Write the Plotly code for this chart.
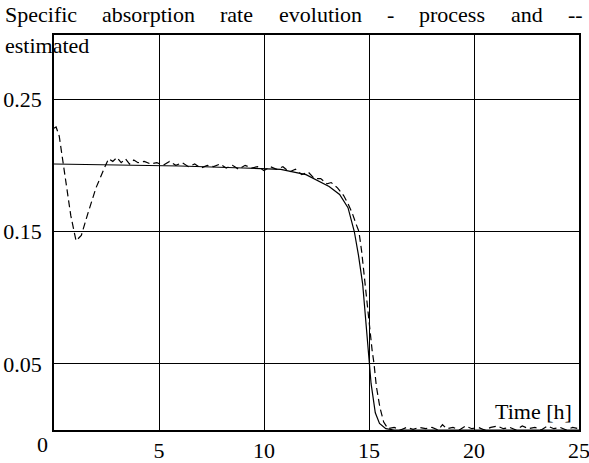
import plotly.graph_objects as go

# ---- data ----
t_process = [0, 3, 6, 9, 10.8, 12, 13.1, 13.6, 14.0, 14.3, 14.5, 14.7, 14.9, 15.0, 15.1,
             15.3, 15.5, 15.8, 16.2, 25]
sar_process = [0.201, 0.2005, 0.1995, 0.198, 0.197, 0.193, 0.184, 0.178, 0.168, 0.150, 0.132,
               0.110, 0.072, 0.052, 0.035, 0.013, 0.005, 0.001, 0.0, 0.0]

t_estimated = [0, 0.1, 0.25, 0.5, 0.8, 1.05, 1.3, 1.6, 2.0, 2.4, 2.6, 2.8, 3.0, 3.2, 3.4, 3.6,
               3.8, 4.0, 4.3, 4.6, 4.9, 5.2, 5.5, 5.8, 6.1, 6.4, 6.7, 7.0, 7.3, 7.6, 7.9, 8.2,
               8.5, 8.8, 9.1, 9.4, 9.7, 10.0, 10.3, 10.6, 10.9, 11.2, 11.5, 11.8, 12.1, 12.4,
               12.7, 13.0, 13.2, 13.5, 13.8, 14.0, 14.2, 14.4, 14.52, 14.65, 14.8, 14.9, 15.05,
               15.15, 15.24, 15.35, 15.52, 15.7, 15.9, 16.2, 16.5, 16.8, 17.1, 17.4, 17.7, 18.0,
               18.3, 18.5, 18.7, 19.0, 19.3, 19.6, 19.9, 20.2, 20.5, 20.8, 21.1, 21.4, 21.7,
               22.0, 22.3, 22.6, 22.9, 23.2, 23.5, 23.8, 24.1, 24.4, 24.7, 25.0]
sar_estimated = [0.228, 0.229, 0.222, 0.195, 0.162, 0.143, 0.147, 0.163, 0.183, 0.198, 0.205,
                 0.203, 0.206, 0.202, 0.205, 0.201, 0.204, 0.202, 0.203, 0.201, 0.202, 0.200,
                 0.203, 0.200, 0.202, 0.199, 0.201, 0.198, 0.200, 0.199, 0.201, 0.198, 0.200,
                 0.197, 0.200, 0.198, 0.199, 0.196, 0.199, 0.197, 0.199, 0.195, 0.197, 0.193,
                 0.195, 0.190, 0.190, 0.186, 0.187, 0.183, 0.177, 0.171, 0.164, 0.155, 0.150,
                 0.135, 0.112, 0.093, 0.075, 0.060, 0.050, 0.033, 0.017, 0.006, 0.001, 0.002,
                 0.000, 0.002, 0.0005, 0.002, 0.001, 0.002, 0.000, 0.004, 0.001, 0.002, 0.000,
                 0.003, 0.001, 0.002, 0.000, 0.002, 0.003, 0.001, 0.002, 0.000, 0.003, 0.001,
                 0.002, 0.000, 0.003, 0.001, 0.002, 0.000, 0.002, 0.001]

x_tickvals = [5, 10, 15, 20, 25]
x_ticktext = ["5", "10", "15", "20", "25"]
y_tickvals = [0.05, 0.15, 0.25]
y_ticktext = ["0.05", "0.15", "0.25"]

title_words = ["Specific", "absorption", "rate", "evolution", "-", "process", "and", "--"]
title_line2 = "estimated"
x_label = "Time [h]"
zero_label = "0"

# ---- layout geometry ----
W, H = 589, 463
L, R, T, B = 54, 579, 35, 430
FONT = "Times New Roman, Liberation Serif, DejaVu Serif, serif"
FS = 22


def px(xpix):
    return (xpix - L) / (R - L)


def py(ypix):
    return (B - ypix) / (B - T)


fig = go.Figure()
fig.add_trace(go.Scatter(x=t_process, y=sar_process, mode="lines",
                         line=dict(color="black", width=1.2), showlegend=False))
fig.add_trace(go.Scatter(x=t_estimated, y=sar_estimated, mode="lines",
                         line=dict(color="black", width=1.2, dash="7px,4px"),
                         showlegend=False))

# justified title line 1 (word left edges in pixels)
word_lefts = [3, 100.3, 218.4, 276.6, 384.9, 417.4, 508.6, 565.6]
annotations = []
for w, xl in zip(title_words, word_lefts):
    annotations.append(dict(text=w, xref="paper", yref="paper", x=px(xl), y=py(15),
                            xanchor="left", yanchor="middle", showarrow=False,
                            font=dict(family=FONT, size=FS, color="black")))
annotations.append(dict(text=title_line2, xref="paper", yref="paper", x=px(3), y=py(45),
                        xanchor="left", yanchor="middle", showarrow=False,
                        font=dict(family=FONT, size=FS, color="black")))
annotations.append(dict(text=x_label, xref="paper", yref="paper", x=px(574), y=py(411),
                        xanchor="right", yanchor="middle", showarrow=False,
                        font=dict(family=FONT, size=FS, color="black")))
annotations.append(dict(text=zero_label, xref="paper", yref="paper", x=px(42), y=py(444),
                        xanchor="center", yanchor="middle", showarrow=False,
                        font=dict(family=FONT, size=FS, color="black")))

fig.update_layout(
    width=W, height=H,
    margin=dict(l=L, r=W - R, t=T, b=H - B, pad=0, autoexpand=False),
    paper_bgcolor="white", plot_bgcolor="white",
    font=dict(family=FONT, size=FS, color="black"),
    annotations=annotations,
    xaxis=dict(range=[0, 25], tickmode="array", tickvals=x_tickvals, ticktext=x_ticktext,
               automargin=False, ticklabeloverflow="allow",
               showgrid=True, gridcolor="black", gridwidth=1, zeroline=False,
               showline=True, linecolor="black", linewidth=1.5, mirror="allticks",
               ticks="inside", ticklen=4, tickcolor="black", ticklabelstandoff=0,
               tickfont=dict(family=FONT, size=FS, color="black")),
    yaxis=dict(range=[0, 0.2985], tickmode="array", tickvals=y_tickvals, ticktext=y_ticktext,
               automargin=False,
               showgrid=True, gridcolor="black", gridwidth=1, zeroline=False,
               showline=True, linecolor="black", linewidth=1.5, mirror="allticks",
               ticks="inside", ticklen=4, tickcolor="black", ticklabelstandoff=6,
               tickfont=dict(family=FONT, size=FS, color="black")),
)

fig.write_html("out.html", config={"displayModeBar": False},
               post_script="document.body.style.margin='0';")
